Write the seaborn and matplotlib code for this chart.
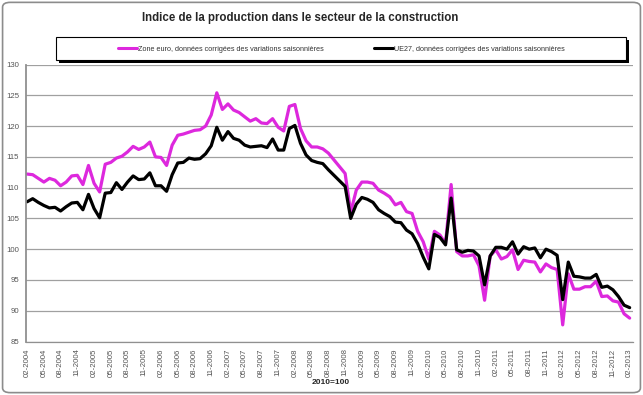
import pandas as pd
import matplotlib.pyplot as plt
import matplotlib.patches as mpatches
from matplotlib.lines import Line2D
import seaborn as sns

# Monthly index values, 02-2004 .. 02-2013 (2010=100)
mois = pd.period_range("2004-02", "2013-02", freq="M").strftime("%m-%Y").tolist()

zone_euro = [
    112.2, 112.1, 111.5, 110.9, 111.5, 111.2, 110.3, 110.9, 111.9, 112.0,
    110.5, 113.6, 110.7, 109.3, 113.8, 114.1, 114.8, 115.1, 115.8, 116.7,
    116.2, 116.6, 117.4, 115.0, 114.9, 113.6, 116.9, 118.5, 118.7, 119.0,
    119.3, 119.4, 120.0, 121.8, 125.4, 122.7, 123.6, 122.6, 122.2, 121.5,
    120.8, 121.2, 120.5, 120.4, 121.2, 119.8, 119.2, 123.2, 123.5, 119.6,
    117.6, 116.6, 116.6, 116.3, 115.6, 114.5, 113.4, 112.3, 106.0, 109.6,
    110.9, 110.9, 110.7, 109.6, 109.1, 108.5, 107.2, 107.6, 106.1, 105.8,
    102.9, 101.2, 98.4, 102.9, 102.3, 100.9, 110.5, 99.6, 98.9, 98.9,
    99.1, 97.3, 91.7, 98.9, 99.9, 98.4, 98.8, 99.9, 96.7, 98.2,
    98.0, 97.9, 96.3, 97.6, 97.0, 96.7, 87.7, 96.0, 93.5, 93.5,
    93.9, 93.9, 94.8, 92.3, 92.4, 91.6, 91.4, 89.5, 88.8,
]

ue27 = [
    107.7, 108.2, 107.6, 107.1, 106.7, 106.8, 106.2, 106.9, 107.5, 107.6,
    106.4, 108.9, 106.6, 105.1, 109.1, 109.2, 110.8, 109.7, 110.9, 111.9,
    111.3, 111.4, 112.4, 110.3, 110.3, 109.4, 112.1, 114.0, 114.1, 114.8,
    114.6, 114.7, 115.5, 116.8, 119.8, 117.7, 119.1, 118.0, 117.7, 116.9,
    116.6, 116.7, 116.8, 116.5, 117.9, 116.1, 116.1, 119.6, 120.1, 117.2,
    115.3, 114.4, 114.1, 113.9, 112.9, 112.0, 111.1, 110.2, 105.0, 107.3,
    108.4, 108.1, 107.6, 106.4, 105.8, 105.3, 104.4, 104.3, 103.1, 102.5,
    100.9, 98.7, 96.8, 102.4, 101.9, 100.7, 108.3, 99.9, 99.5, 99.8,
    99.7, 98.9, 94.2, 98.9, 100.3, 100.3, 100.0, 101.2, 99.2, 100.4,
    100.0, 100.2, 98.6, 100.0, 99.6, 99.0, 91.8, 97.9, 95.6, 95.5,
    95.3, 95.3, 95.9, 93.8, 94.0, 93.4, 92.3, 90.9, 90.5,
]

lbl_ze = "Zone euro, données corrigées des variations saisonnières"
lbl_ue = "UE27, données corrigées des variations saisonnières"
title = "Indice de la production dans le secteur de la construction"

magenta = "#DD28DD"

sns.set_style("white")
plt.rcParams["font.family"] = ["Liberation Sans", "DejaVu Sans"]

df = pd.DataFrame({"idx": range(len(mois)), lbl_ze: zone_euro, lbl_ue: ue27})
long_df = df.melt(id_vars="idx", var_name="serie", value_name="valeur")

fig = plt.figure(figsize=(6.43, 3.95), dpi=100)
ax = fig.add_axes([26 / 643, 1 - 341.5 / 395, (633 - 26) / 643, (341.5 - 64.5) / 395])

sns.lineplot(data=long_df, x="idx", y="valeur", hue="serie",
             palette={lbl_ze: magenta, lbl_ue: "black"},
             linewidth=2.3, legend=False, ax=ax)

ax.set_ylim(85, 130)
ax.set_yticks(range(85, 131, 5))
ax.set_xlim(-0.2, 108.6)
ax.set_xticks(range(0, len(mois), 3))
ax.set_xticklabels(mois[::3], rotation=90)
ax.set_xticks(range(len(mois)), minor=True)
ax.grid(axis="y", color="#a0a0a0", linewidth=0.9)
ax.set_axisbelow(True)
ax.tick_params(axis="both", which="both", direction="out", colors="#808080",
               labelcolor="#555555", labelsize=5.6, length=3, width=0.7, pad=2)
ax.tick_params(axis="x", which="minor", length=2)
for side in ["top", "right"]:
    ax.spines[side].set_visible(False)
ax.spines["left"].set_color("#909090")
ax.spines["left"].set_linewidth(1.3)
ax.spines["bottom"].set_color("#909090")
ax.spines["bottom"].set_linewidth(0.9)
ax.set_xlabel("")
ax.set_ylabel("")

fig.text(331 / 643, 1 - 383 / 395, "2010=100", ha="center", va="center",
         fontsize=6, fontweight="bold")
fig.text(300 / 643, 1 - 18 / 395, title, ha="center", va="center",
         fontsize=8.3, fontweight="bold")

# legend box with shadow
bx0, by0, bw, bh = 56 / 643, 1 - 60 / 395, (626 - 56) / 643, 23 / 395
fig.patches.append(mpatches.Rectangle((bx0 + 2.5 / 643, by0 - 2.5 / 395), bw, bh,
                                      transform=fig.transFigure, facecolor="black",
                                      edgecolor="none", zorder=2))
fig.patches.append(mpatches.Rectangle((bx0, by0), bw, bh, transform=fig.transFigure,
                                      facecolor="white", edgecolor="black",
                                      linewidth=0.8, zorder=3))
handles = [Line2D([], [], color=magenta, linewidth=2.2),
           Line2D([], [], color="black", linewidth=2.2)]
leg = fig.legend(handles, [lbl_ze, lbl_ue], loc="center", ncol=2,
                 bbox_to_anchor=(341.5 / 643, 1 - 49 / 395), frameon=False,
                 fontsize=5.2, handlelength=2.6, handletextpad=0.1, columnspacing=7.0)
for t in leg.get_texts():
    t.set_color("#333333")
leg.set_zorder(4)

# chart border
fig.patches.append(mpatches.FancyBboxPatch((0.004, 0.006), 0.992, 0.988,
                                           boxstyle="round,pad=0,rounding_size=0.012",
                                           transform=fig.transFigure, fill=False,
                                           edgecolor="#8c8c8c", linewidth=1.2))

fig.savefig("out.png", dpi=100)
